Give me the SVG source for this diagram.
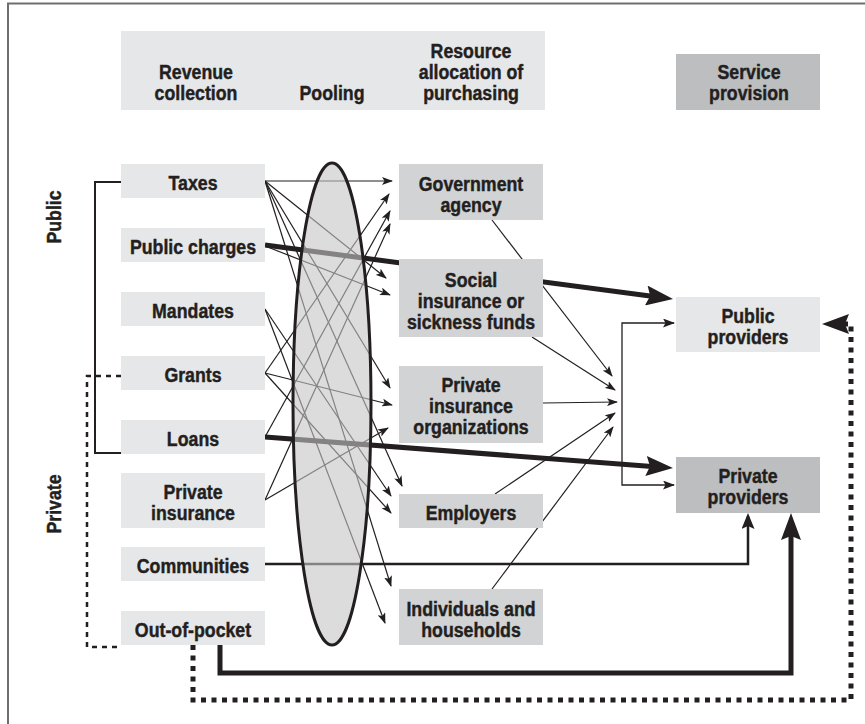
<svg xmlns="http://www.w3.org/2000/svg" width="865" height="724" viewBox="0 0 865 724">
<defs>
<style>
.t{font-family:"Liberation Sans",Arial,sans-serif;font-weight:bold;font-size:21px;fill:#231f20;stroke:#231f20;stroke-width:0.45;text-anchor:middle}
.b1{fill:#e6e7e8}
.b2{fill:#d1d3d4}
.b3{fill:#bcbec0}
.thin{fill:none;stroke:#231f20;stroke-width:1.2;marker-end:url(#ah-thin)}
.thick{fill:none;stroke:#231f20;stroke-width:5;marker-end:url(#ah-big)}
</style>
<marker id="ah-thin" markerUnits="userSpaceOnUse" markerWidth="11" markerHeight="8" viewBox="0 0 11 8" refX="10" refY="4" orient="auto"><path d="M0,0 L11,4 L0,8 L2.5,4 Z" fill="#231f20"/></marker>
<marker id="ah-sm" markerUnits="userSpaceOnUse" markerWidth="12" markerHeight="9" viewBox="0 0 12 9" refX="11" refY="4.5" orient="auto-start-reverse"><path d="M0,0 L12,4.5 L0,9 L2.5,4.5 Z" fill="#231f20"/></marker>
<marker id="ah-med" markerUnits="userSpaceOnUse" markerWidth="16" markerHeight="13" viewBox="0 0 16 13" refX="13" refY="6.5" orient="auto"><path d="M0,0 L16,6.5 L0,13 L3,6.5 Z" fill="#231f20"/></marker>
<marker id="ah-big" markerUnits="userSpaceOnUse" markerWidth="27" markerHeight="20" viewBox="0 0 27 20" refX="19" refY="10" orient="auto"><path d="M0,0 L27,10 L0,20 L4,10 Z" fill="#231f20"/></marker>
</defs>
<rect width="865" height="724" fill="#ffffff"/>
<path d="M8,724 V3.5 H865" fill="none" stroke="#6d6e71" stroke-width="2"/>

<g id="header">
<rect class="b1" x="121" y="31" width="424" height="79"/>
<text class="t" transform="matrix(0.845,0,0,1,196,0)"><tspan x="0" y="79">Revenue</tspan><tspan x="0" y="100">collection</tspan></text>
<text class="t" transform="matrix(0.845,0,0,1,332,0)"><tspan x="0" y="100">Pooling</tspan></text>
<text class="t" transform="matrix(0.845,0,0,1,471,0)"><tspan x="0" y="58">Resource</tspan><tspan x="0" y="79">allocation of</tspan><tspan x="0" y="100">purchasing</tspan></text>
</g>
<g id="service-provision">
<rect class="b3" x="676" y="54" width="144" height="56"/>
<text class="t" transform="matrix(0.845,0,0,1,749,0)"><tspan x="0" y="79">Service</tspan><tspan x="0" y="100">provision</tspan></text>
</g>
<g id="label-public"><text class="t" transform="translate(61,217) rotate(-90) scale(0.845,1)">Public</text></g>
<g id="label-private"><text class="t" transform="translate(61,504) rotate(-90) scale(0.845,1)">Private</text></g>

<g id="connectors">
<path d="M121,182 H95 V453 H121" fill="none" stroke="#231f20" stroke-width="2"/>
<path d="M121,376 H87 V647 H121" fill="none" stroke="#231f20" stroke-width="2.5" stroke-dasharray="5,5"/>
<path class="thin" d="M265,181 L392,181"/>
<path class="thin" d="M265,181 L386,278"/>
<path class="thin" d="M265,181 L390,388"/>
<path class="thin" d="M265,181 L402,486"/>
<path class="thin" d="M265,181 L391,586"/>
<path class="thin" d="M265,246 L390,295"/>
<path class="thin" d="M265,309 L391,496"/>
<path class="thin" d="M265,309 L385,623"/>
<path class="thin" d="M265,373 L389,194"/>
<path class="thin" d="M265,373 L392,405"/>
<path class="thin" d="M265,373 L391,513"/>
<path class="thin" d="M265,437 L390,211"/>
<path class="thin" d="M265,500 L390,224"/>
<path class="thin" d="M265,500 L388,428"/>
<path class="thin" d="M492,220 L612,376"/>
<path class="thin" d="M532,337 L615,390"/>
<path class="thin" d="M543,403 L617,402"/>
<path class="thin" d="M495,494 L615,413"/>
<path class="thin" d="M492,589 L613,427"/>
<path d="M674,323 H622 V485 H674" fill="none" stroke="#231f20" stroke-width="1.3" marker-start="url(#ah-sm)" marker-end="url(#ah-sm)"/>
<path class="thick" d="M265,245 L665.1,298"/>
<path class="thick" d="M265,437 L665,467.4"/>
<path d="M265,564 H748 V516" fill="none" stroke="#231f20" stroke-width="2.5" marker-end="url(#ah-med)"/>
<path class="thick" d="M220,645 V673 H791 V521"/>
<path d="M193,645 V700 H851 V324 H830" fill="none" stroke="#231f20" stroke-width="5" stroke-dasharray="5,5.5" marker-end="url(#ah-big)"/>
</g>

<g id="pooling">
<ellipse cx="332" cy="404" rx="39" ry="241" fill="#c4c4c6" fill-opacity="0.6" stroke="#231f20" stroke-width="3"/>
</g>

<g id="taxes"><rect class="b1" x="121" y="164" width="144" height="34"/><text class="t" transform="matrix(0.845,0,0,1,193,0)"><tspan x="0" y="190">Taxes</tspan></text></g>
<g id="public-charges"><rect class="b1" x="121" y="228" width="144" height="34"/><text class="t" transform="matrix(0.845,0,0,1,193,0)"><tspan x="0" y="254">Public charges</tspan></text></g>
<g id="mandates"><rect class="b1" x="121" y="292" width="144" height="34"/><text class="t" transform="matrix(0.845,0,0,1,193,0)"><tspan x="0" y="318">Mandates</tspan></text></g>
<g id="grants"><rect class="b1" x="121" y="356" width="144" height="34"/><text class="t" transform="matrix(0.845,0,0,1,193,0)"><tspan x="0" y="382">Grants</tspan></text></g>
<g id="loans"><rect class="b1" x="121" y="420" width="144" height="34"/><text class="t" transform="matrix(0.845,0,0,1,193,0)"><tspan x="0" y="446">Loans</tspan></text></g>
<g id="private-insurance"><rect class="b1" x="121" y="473" width="144" height="55"/><text class="t" transform="matrix(0.845,0,0,1,193,0)"><tspan x="0" y="499">Private</tspan><tspan x="0" y="520">insurance</tspan></text></g>
<g id="communities"><rect class="b1" x="121" y="547" width="144" height="34"/><text class="t" transform="matrix(0.845,0,0,1,193,0)"><tspan x="0" y="573">Communities</tspan></text></g>
<g id="out-of-pocket"><rect class="b1" x="121" y="611" width="144" height="34"/><text class="t" transform="matrix(0.845,0,0,1,193,0)"><tspan x="0" y="637">Out-of-pocket</tspan></text></g>

<g id="government-agency"><rect class="b2" x="399" y="164" width="144" height="56"/><text class="t" transform="matrix(0.845,0,0,1,471,0)"><tspan x="0" y="191">Government</tspan><tspan x="0" y="212">agency</tspan></text></g>
<g id="social-insurance"><rect class="b2" x="399" y="259" width="144" height="78"/><text class="t" transform="matrix(0.845,0,0,1,471,0)"><tspan x="0" y="287">Social</tspan><tspan x="0" y="308">insurance or</tspan><tspan x="0" y="329">sickness funds</tspan></text></g>
<g id="private-insurance-organizations"><rect class="b2" x="399" y="366" width="144" height="77"/><text class="t" transform="matrix(0.845,0,0,1,471,0)"><tspan x="0" y="392">Private</tspan><tspan x="0" y="413">insurance</tspan><tspan x="0" y="434">organizations</tspan></text></g>
<g id="employers"><rect class="b2" x="399" y="494" width="144" height="34"/><text class="t" transform="matrix(0.845,0,0,1,471,0)"><tspan x="0" y="520">Employers</tspan></text></g>
<g id="individuals"><rect class="b2" x="399" y="589" width="144" height="56"/><text class="t" transform="matrix(0.845,0,0,1,471,0)"><tspan x="0" y="616">Individuals and</tspan><tspan x="0" y="637">households</tspan></text></g>

<g id="public-providers"><rect class="b1" x="676" y="297" width="144" height="55"/><text class="t" transform="matrix(0.845,0,0,1,748,0)"><tspan x="0" y="323">Public</tspan><tspan x="0" y="344">providers</tspan></text></g>
<g id="private-providers"><rect class="b3" x="676" y="457" width="144" height="56"/><text class="t" transform="matrix(0.845,0,0,1,748,0)"><tspan x="0" y="483">Private</tspan><tspan x="0" y="504">providers</tspan></text></g>
</svg>
